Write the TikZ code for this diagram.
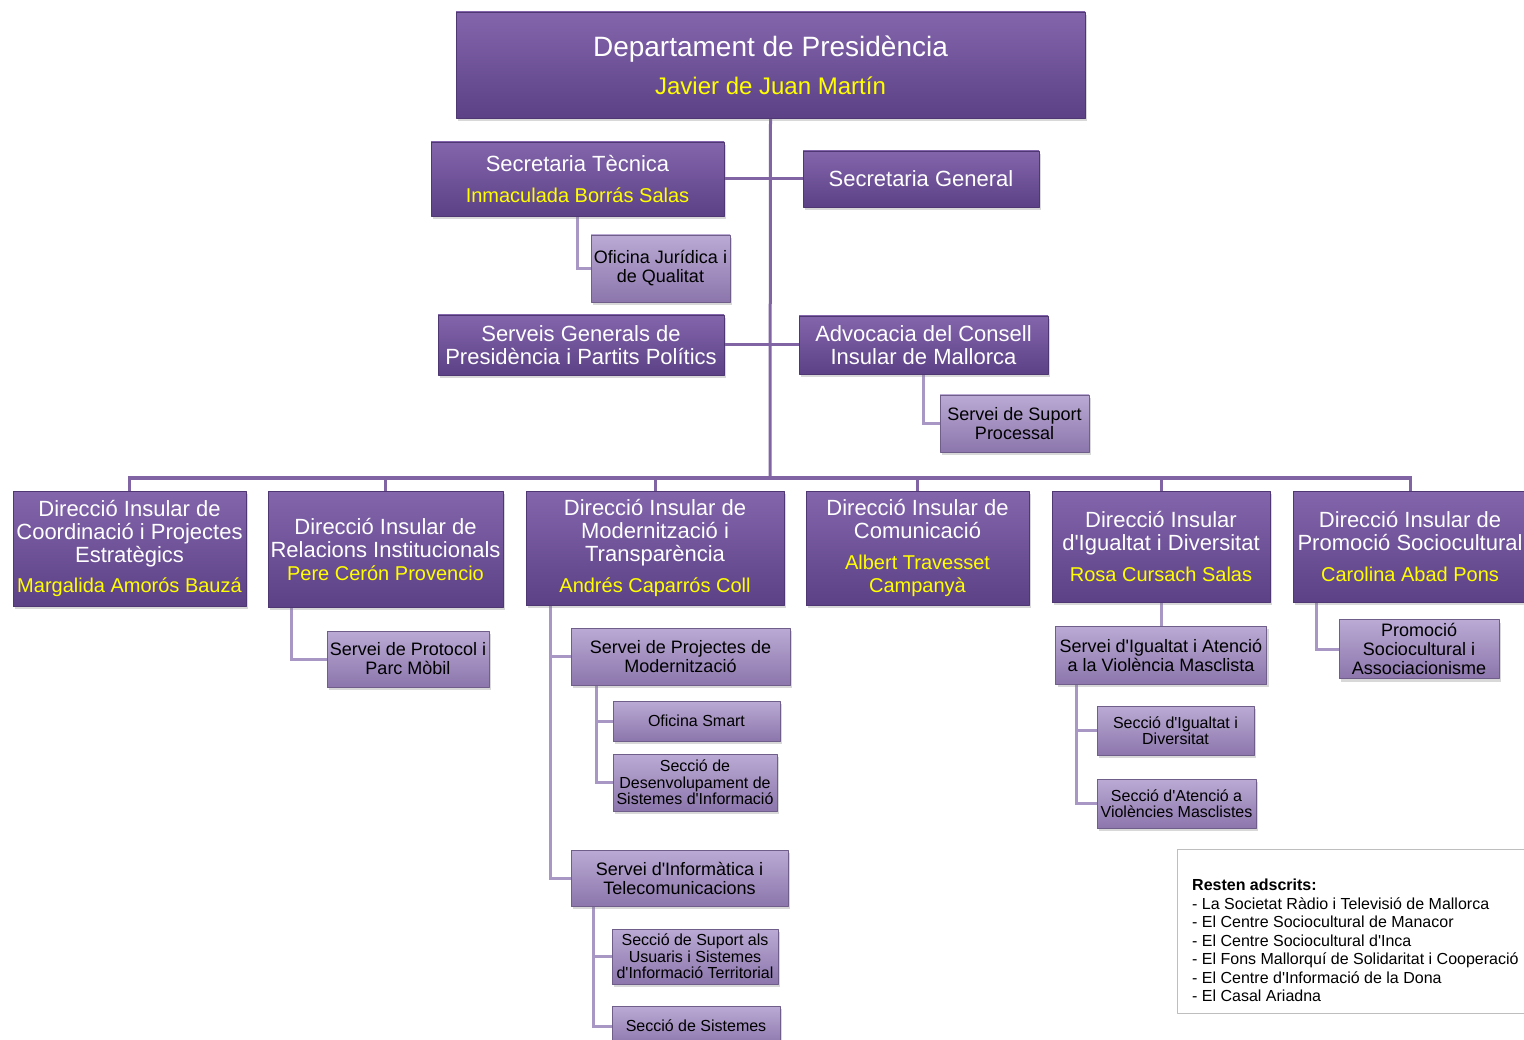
\documentclass[tikz,border=0pt]{standalone}
\usepackage{fontspec}
\setmainfont{Liberation Sans}[Ligatures=TeXOff]
\usepackage{xcolor}
\usepackage{tikz}
\usetikzlibrary{calc}
\usetikzlibrary{shadows,backgrounds}

\definecolor{UnitTop}{RGB}{131,101,172}
\definecolor{UnitBot}{RGB}{92,65,134}
\definecolor{SubTop}{RGB}{186,170,212}
\definecolor{SubBot}{RGB}{140,118,172}
\definecolor{TrunkCol}{RGB}{128,100,164}
\definecolor{BranchCol}{RGB}{168,151,197}
\definecolor{NameYellow}{RGB}{255,255,0}
\definecolor{LegendGray}{RGB}{190,190,190}

\newcommand{\who}[2][20]{{\fontsize{#1}{#1}\selectfont\color{NameYellow}#2}}

\begin{document}
\begin{tikzpicture}[
		%Global config
		x=1pt, y=-1pt,
		line join=round,
		%Styles
		Unit/.style={
			rectangle,
			draw=UnitBot!85!black,
			line width=0.6pt,
			top color=UnitTop,
			bottom color=UnitBot,
			text=white,
			align=center,
			inner sep=1pt,
			font=\fontsize{22}{23}\selectfont,
			drop shadow={shadow xshift=2pt, shadow yshift=-3pt, opacity=0.3},
		},
		SubUnit/.style={
			Unit,
			draw=SubBot!80!black,
			top color=SubTop,
			bottom color=SubBot,
			text=black,
			font=\fontsize{18}{19}\selectfont,
		},
		Section/.style={
			SubUnit,
			font=\fontsize{16}{16.5}\selectfont,
		},
		dims/.style 2 args={minimum width=#1, minimum height=#2},
		trunk/.style={line width=3pt, color=TrunkCol},
		branch/.style={line width=3pt, color=BranchCol},
		]

		\useasboundingbox (0,0) rectangle (1524,1040);

		% head of the department
		\node[Unit, dims={629}{106}, font=\fontsize{28}{30}\selectfont] (dept) at (770.5,65)
			{Departament de Presidència\\[8pt]\who[24]{Javier de Juan Martín}};

		% staff units
		\node[Unit, dims={293}{74}] (sectec) at (577.5,179) {Secretaria Tècnica\\[8pt]\who{Inmaculada Borrás Salas}};
		\node[Unit, dims={236}{56}] (secgen) at (921,179) {Secretaria General};
		\node[SubUnit, dims={139}{67}] (ofic) at (660.5,268.5) {Oficina Jurídica i\\de Qualitat};
		\node[Unit, dims={286}{60}] (servgen) at (581,345) {Serveis Generals de\\Presidència i Partits Polítics};
		\node[Unit, dims={249}{58}] (advoc) at (923.5,345) {Advocacia del Consell\\Insular de Mallorca};
		\node[SubUnit, dims={149}{57}] (suport) at (1014.5,423.5) {Servei de Suport\\Processal};

		% directorates
		\node[Unit, dims={233}{115}] (dir1) at (129.5,548.5)
			{Direcció Insular de\\Coordinació i Projectes\\Estratègics\\[7pt]\who{Margalida Amorós Bauzá}};
		\node[Unit, dims={235}{116}] (dir2) at (385.5,549)
			{Direcció Insular de\\Relacions Institucionals\\\who{Pere Cerón Provencio}};
		\node[Unit, dims={258}{114}] (dir3) at (655,548)
			{Direcció Insular de\\Modernització i\\Transparència\\[8pt]\who{Andrés Caparrós Coll}};
		\node[Unit, dims={223}{114}] (dir4) at (917.5,548)
			{Direcció Insular de\\Comunicació\\[8pt]\who{Albert Travesset}\\\who{Campanyà}};
		\node[Unit, dims={218}{111}] (dir5) at (1161,546.5)
			{Direcció Insular\\d'Igualtat i Diversitat\\[8pt]\who{Rosa Cursach Salas}};
		\node[Unit, dims={234}{111}] (dir6) at (1410,546.5)
			{Direcció Insular de\\Promoció Sociocultural\\[8pt]\who{Carolina Abad Pons}};

		% services and sections
		\node[SubUnit, dims={162}{56}] (protoc) at (408,659) {Servei de Protocol i\\Parc Mòbil};

		\node[SubUnit, dims={219}{57}] (proj) at (680.5,656.5) {Servei de Projectes de\\Modernització};
		\node[Section, dims={167}{40}] (smart) at (696.5,721) {Oficina Smart};
		\node[Section, dims={164}{57}] (desenv) at (695,782.5) {Secció de\\Desenvolupament de\\Sistemes d'Informació};
		\node[SubUnit, dims={217}{56}] (inform) at (679.5,878) {Servei d'Informàtica i\\Telecomunicacions};
		\node[Section, dims={166}{55}] (usuaris) at (695,956.5) {Secció de Suport als\\Usuaris i Sistemes\\d'Informació Territorial};
		\node[Section, dims={168}{40}] (sistemes) at (696,1026) {Secció de Sistemes};

		\node[SubUnit, dims={211}{58}] (igualt) at (1161,655) {Servei d'Igualtat i Atenció\\a la Violència Masclista};
		\node[Section, dims={157}{49}] (seccig) at (1175.5,730.5) {Secció d'Igualtat i\\Diversitat};
		\node[Section, dims={159}{49}] (seccat) at (1176.5,803.5) {Secció d'Atenció a\\Violències Masclistes};

		\node[SubUnit, dims={160}{59}] (promoc) at (1419,649) {Promoció\\Sociocultural i\\Associacionisme};

		% attached bodies
		\node[draw=LegendGray, line width=1pt, dims={360}{164}, anchor=north west] (legend) at (1177,849) {};
		\node[anchor=north west, align=left, inner sep=0pt, font=\fontsize{16}{18.5}\selectfont] (adscrits) at (1192,879)
			{\textbf{Resten adscrits:}\\
			- La Societat Ràdio i Televisió de Mallorca\\
			- El Centre Sociocultural de Manacor\\
			- El Centre Sociocultural d'Inca\\
			- El Fons Mallorquí de Solidaritat i Cooperació\\
			- El Centre d'Informació de la Dona\\
			- El Casal Ariadna};

		% connectors
		\begin{scope}[on background layer]
			\fill[white] (0,0) rectangle (1524,1040);
			\coordinate (bus) at (770,478);
			\draw[trunk] (dept.south) -- (bus);
			\draw[trunk] (dir1.north) |- (bus) -| (dir6.north);
			\foreach \d in {dir2,dir3,dir4,dir5}
				\draw[trunk] (\d.north) -- (\d.north |- bus);
			\draw[trunk] (sectec.east) -- (secgen.west);
			\draw[trunk] (servgen.east) -- (advoc.west);

			\draw[branch] (sectec.south) |- (ofic.west);
			\draw[branch] (advoc.south) |- (suport.west);
			\draw[branch] ($(dir2.south west)+(24,0)$) |- (protoc.west);
			\draw[branch] ($(dir3.south west)+(25,0)$) |- (proj.west);
			\draw[branch] ($(dir3.south west)+(25,0)$) |- (inform.west);
			\draw[branch] ($(proj.south west)+(26,0)$) |- (smart.west);
			\draw[branch] ($(proj.south west)+(26,0)$) |- (desenv.west);
			\draw[branch] ($(inform.south west)+(23,0)$) |- (usuaris.west);
			\draw[branch] ($(inform.south west)+(23,0)$) |- (sistemes.west);
			\draw[branch] (dir5.south) -- (igualt.north);
			\draw[branch] ($(igualt.south west)+(21,0)$) |- (seccig.west);
			\draw[branch] ($(igualt.south west)+(21,0)$) |- (seccat.west);
			\draw[branch] ($(dir6.south west)+(24,0)$) |- (promoc.west);
		\end{scope}
	\end{tikzpicture}
\end{document}
